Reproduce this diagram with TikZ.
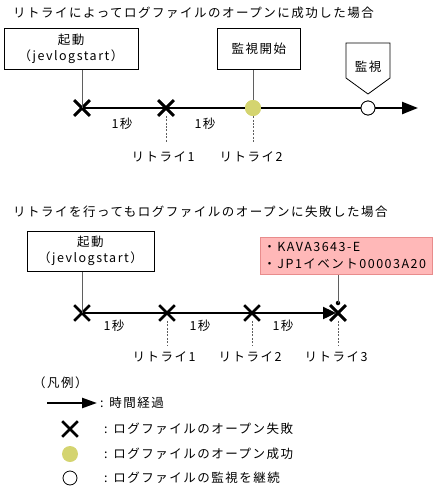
\documentclass[tikz,border=0pt]{standalone}
\usepackage{fontspec}
\setmainfont{Noto Sans CJK JP}[LetterSpace=12]
\usetikzlibrary{arrows.meta,shapes.misc}
\definecolor{okyellow}{RGB}{212,212,112}
\definecolor{errfill}{RGB}{255,184,184}
\definecolor{errdraw}{RGB}{232,140,140}
\definecolor{conngray}{RGB}{95,95,95}
\begin{document}
\begin{tikzpicture}[x=1pt,y=-1pt,
  every node/.style={font=\fontsize{12.5pt}{15pt}\selectfont, inner sep=0pt},
  boxnode/.style={draw=black, line width=0.8pt, align=center},
  errbox/.style={draw=errdraw, fill=errfill, line width=0.8pt, align=left},
  failmark/.style={draw=black, cross out, line width=2.6pt, minimum size=13pt},
  okmark/.style={circle, fill=okyellow, minimum size=16pt},
  watchmark/.style={circle, draw=black, fill=white, line width=0.8pt, minimum size=14pt},
  axisline/.style={line width=2.4pt, draw=black},
  conn/.style={draw=conngray, line width=0.8pt},
  dotline/.style={draw=conngray, line width=0.9pt, dash pattern=on 2pt off 1.4pt},
  lbl/.style={anchor=center},
  title/.style={anchor=west}
]
\useasboundingbox (0,0) rectangle (435,491);

% ---------- top section ----------
\node[title] (t1) at (13,13) {リトライによってログファイルのオープンに成功した場合};

\node[boxnode, minimum width=134pt, minimum height=41pt, anchor=north west] (b1) at (4,28) {};
\node (b1a) at (71,40) {起動};
\node (b1b) at (71,57) {（jevlogstart）};
\node[boxnode, minimum width=83pt, minimum height=41pt, anchor=north west] (b2) at (217,28) {監視開始};

\coordinate (tip1) at (418,108);
\node[failmark] (a1) at (82,108) {};
\node[failmark] (a2) at (166,108) {};
\node[okmark] (a3) at (253,108) {};
\node[watchmark] (a4) at (368,108) {};

\draw[axisline, -{Triangle[length=16pt,width=12pt]}] (a1.center) -- (tip1);
\node[failmark] at (a1) {};
\node[failmark] at (a2) {};
\node[okmark] at (a3) {};
\node[watchmark] at (a4) {};

\draw[conn] (a1.center) -- (a1.center |- b1.south);
\draw[conn] (a3.north) -- (a3.north |- b2.south);

\coordinate (p1) at (346,43);
\coordinate (p2) at (390,43);
\coordinate (p3) at (390,78);
\coordinate (p4) at (368,94);
\coordinate (p5) at (346,78);
\draw[draw=black, line width=0.8pt, fill=white] (p1) -- (p2) -- (p3) -- (p4) -- (p5) -- cycle;
\node (mon) at (368,67) {監視};

\node (s1) at (122,124) {1秒};
\node (s2) at (205,124) {1秒};

\node (r1) at (163,157) {リトライ1};
\node (r2) at (251,157) {リトライ2};
\draw[dotline] (a2.south) -- (a2.south |- 0,142);
\draw[dotline] (a3.south) -- (a3.south |- 0,143);

% ---------- bottom section ----------
\node[title] (t2) at (13,212) {リトライを行ってもログファイルのオープンに失敗した場合};

\node[boxnode, minimum width=127pt, minimum height=40pt, anchor=north west] (c1) at (27,231) {};
\node (c1a) at (90.5,242) {起動};
\node (c1b) at (90.5,259) {（jevlogstart）};

\node[errbox, minimum width=172pt, minimum height=37pt, anchor=north west,
      text width=166pt, inner xsep=3pt,
      font=\fontsize{12.5pt}{17pt}\selectfont] (err) at (260,237)
      {・KAVA3643-E\\・JP1イベント00003A20};

\node[failmark] (d1) at (82,313) {};
\node[failmark] (d2) at (167,313) {};
\node[failmark] (d3) at (252,313) {};
\node[failmark] (d4) at (338,313) {};
\draw[axisline, -{Triangle[length=13pt,width=12pt]}, shorten >=2pt] (d1.center) -- (d4.center);
\node[failmark] at (d4) {};

\draw[conn] (d1.center) -- (d1.center |- c1.south);
\node[circle, fill=black, minimum size=4.5pt] (dot) at (338,303) {};
\draw[conn] (dot.center) -- (dot.center |- err.south);

\node (u1) at (114,326) {1秒};
\node (u2) at (200,326) {1秒};
\node (u3) at (283,326) {1秒};

\node (q1) at (164,357) {リトライ1};
\node (q2) at (250,357) {リトライ2};
\node (q3) at (336,357) {リトライ3};
\draw[dotline] (d2.south) -- (d2.south |- 0,345);
\draw[dotline] (d3.south) -- (d3.south |- 0,345);
\draw[dotline] (d4.south) -- (d4.south |- 0,345);

% ---------- legend ----------
\node[anchor=west] (lg) at (33,383) {（凡例）};
\coordinate (la1) at (47,403);
\coordinate (la2) at (97,403);
\draw[axisline, -{Triangle[length=15pt,width=10pt]}] (la1) -- (la2);
\node[anchor=west] (lt1) at (100,403) {: 時間経過};

\node[failmark] (lm2) at (70,429) {};
\node[anchor=west] (lt2) at (104,429) {: ログファイルのオープン失敗};
\node[okmark] (lm3) at (70,454) {};
\node[anchor=west] (lt3) at (104,454) {: ログファイルのオープン成功};
\node[watchmark] (lm4) at (70,478) {};
\node[anchor=west] (lt4) at (104,478) {: ログファイルの監視を継続};
\end{tikzpicture}
\end{document}
